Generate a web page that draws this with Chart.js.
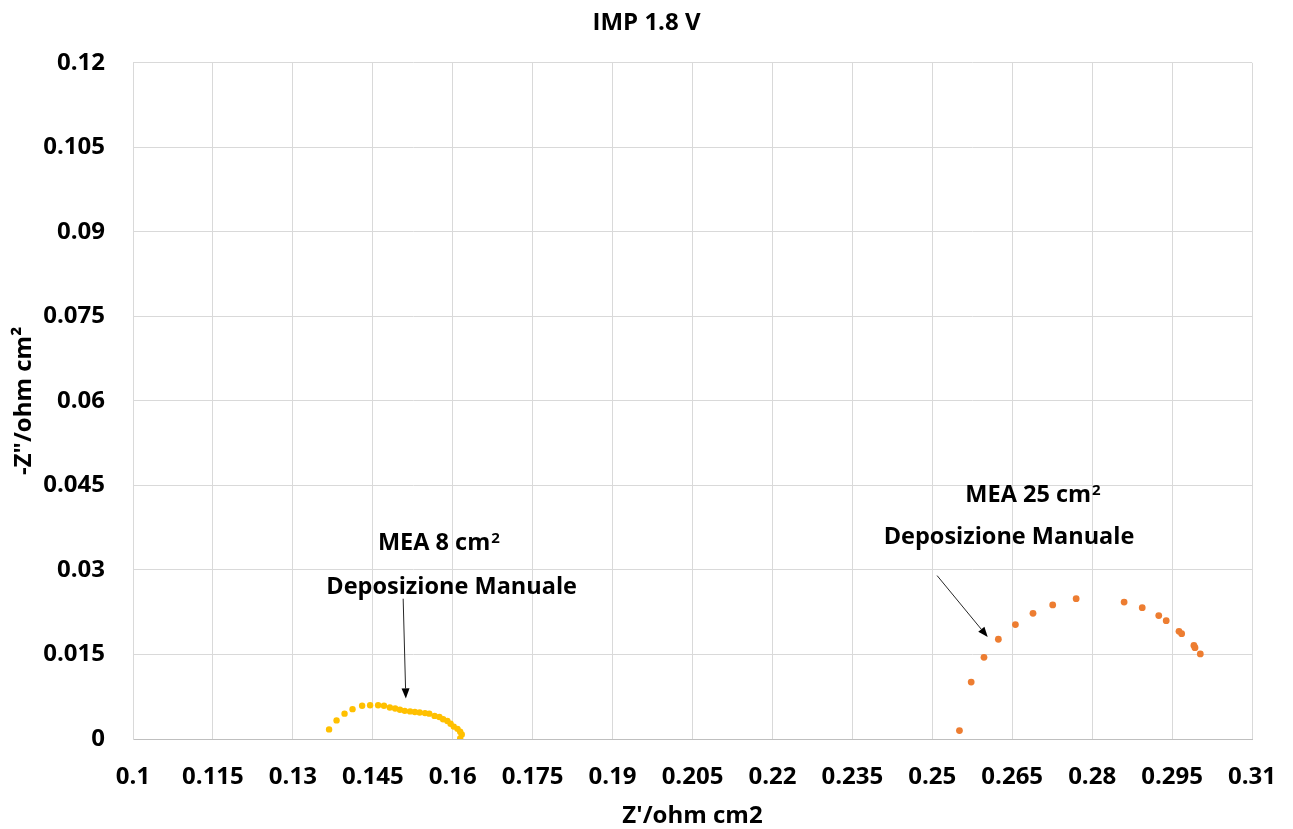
<!DOCTYPE html>
<html>
<head>
<meta charset="utf-8">
<title>IMP 1.8 V</title>
<script src="https://cdn.jsdelivr.net/npm/chart.js@4.4.1/dist/chart.umd.min.js"></script>
<style>
  html, body { margin: 0; padding: 0; background: #fff; }
  #wrap { width: 1293px; height: 829px; }
</style>
</head>
<body>
<div id="wrap"><canvas id="nyquist"></canvas></div>
<script>
// Nyquist plot at 1.8 V, two MEA sizes
const xTickValues = [0.1, 0.115, 0.13, 0.145, 0.16, 0.175, 0.19, 0.205, 0.22, 0.235, 0.25, 0.265, 0.28, 0.295, 0.31];
const yTickValues = [0, 0.015, 0.03, 0.045, 0.06, 0.075, 0.09, 0.105, 0.12];

// MEA 8 cm2: Z' and -Z''
const mea8Re = [0.1368, 0.1382, 0.1397, 0.1412, 0.1430, 0.1445, 0.1460, 0.1471, 0.1482, 0.1492,
                0.1501, 0.1510, 0.1520, 0.1529, 0.1538, 0.1548, 0.1556, 0.1566, 0.1575, 0.1582,
                0.1590, 0.1596, 0.1602, 0.1609, 0.1614, 0.1617, 0.1614];
const mea8Im = [0.0017, 0.0033, 0.0045, 0.0053, 0.0059, 0.0060, 0.0060, 0.0059, 0.0056, 0.0054,
                0.0052, 0.0050, 0.0049, 0.0048, 0.0047, 0.0046, 0.0045, 0.0041, 0.0039, 0.0035,
                0.0032, 0.0027, 0.0022, 0.0018, 0.0013, 0.0008, 0.0001];

// MEA 25 cm2: Z' and -Z''
const mea25Re = [0.2551, 0.2573, 0.2597, 0.2624, 0.2656, 0.2689, 0.2726, 0.2770, 0.2860, 0.2894,
                 0.2925, 0.2939, 0.2963, 0.2968, 0.2991, 0.2993, 0.3003];
const mea25Im = [0.0015, 0.0101, 0.0145, 0.0177, 0.0203, 0.0223, 0.0238, 0.0249, 0.0243, 0.0233,
                 0.0219, 0.0210, 0.0191, 0.0187, 0.0166, 0.0162, 0.0151];

const FONT = '"Open Sans", "DejaVu Sans", sans-serif';

function toPoints(xs, ys) {
    return xs.map((x, i) => ({ x: x, y: ys[i] }));
}

// labels and arrows placed in data units
const notes = [
    { text: 'MEA 8 cm', sup: '2', x: 0.1574, y: 0.0336 },
    { text: 'Deposizione Manuale', sup: '', x: 0.1598, y: 0.0258 },
    { text: 'MEA 25 cm', sup: '2', x: 0.2689, y: 0.0421 },
    { text: 'Deposizione Manuale', sup: '', x: 0.2644, y: 0.0346 }
];
const arrows = [
    { x1: 0.1507, y1: 0.0249, x2: 0.1512, y2: 0.0072 },
    { x1: 0.2509, y1: 0.0290, x2: 0.2604, y2: 0.0181 }
];

const annotationPlugin = {
    id: 'notes',
    afterDatasetsDraw(chart) {
        const ctx = chart.ctx;
        const xs = chart.scales.x;
        const ys = chart.scales.y;
        ctx.save();
        ctx.fillStyle = '#000';
        ctx.textBaseline = 'alphabetic';
        notes.forEach(n => {
            ctx.font = 'bold 23.5px ' + FONT;
            const w = ctx.measureText(n.text).width;
            ctx.font = 'bold 15px ' + FONT;
            const ws = n.sup ? ctx.measureText(n.sup).width + 1 : 0;
            const cx = xs.getPixelForValue(n.x);
            const by = ys.getPixelForValue(n.y);
            const left = cx - (w + ws) / 2;
            ctx.font = 'bold 23.5px ' + FONT;
            ctx.textAlign = 'left';
            ctx.fillText(n.text, left, by);
            if (n.sup) {
                ctx.font = 'bold 15px ' + FONT;
                ctx.fillText(n.sup, left + w + 1, by - 7);
            }
        });

        ctx.strokeStyle = '#262626';
        ctx.fillStyle = '#000';
        ctx.lineWidth = 1;
        arrows.forEach(a => {
            const x1 = xs.getPixelForValue(a.x1), y1 = ys.getPixelForValue(a.y1);
            const x2 = xs.getPixelForValue(a.x2), y2 = ys.getPixelForValue(a.y2);
            const ang = Math.atan2(y2 - y1, x2 - x1);
            const len = 10, half = 4;
            const bx = x2 - len * Math.cos(ang), byy = y2 - len * Math.sin(ang);
            ctx.beginPath();
            ctx.moveTo(x1, y1);
            ctx.lineTo(bx, byy);
            ctx.stroke();
            ctx.beginPath();
            ctx.moveTo(x2, y2);
            ctx.lineTo(bx + half * Math.sin(ang), byy - half * Math.cos(ang));
            ctx.lineTo(bx - half * Math.sin(ang), byy + half * Math.cos(ang));
            ctx.closePath();
            ctx.fill();
        });
        ctx.restore();
    }
};

const fmt = v => String(+Number(v).toFixed(3));

new Chart(document.getElementById('nyquist'), {
    type: 'scatter',
    data: {
        datasets: [
            {
                label: 'MEA 8 cm2',
                data: toPoints(mea8Re, mea8Im),
                backgroundColor: '#FFC000',
                borderWidth: 0,
                pointRadius: 3.2
            },
            {
                label: 'MEA 25 cm2',
                data: toPoints(mea25Re, mea25Im),
                backgroundColor: '#ED7D31',
                borderWidth: 0,
                pointRadius: 3.4
            }
        ]
    },
    options: {
        responsive: true,
        maintainAspectRatio: false,
        animation: false,
        layout: { padding: 0 },
        plugins: {
            legend: { display: false },
            tooltip: { enabled: false },
            title: {
                display: true,
                text: 'IMP 1.8 V',
                color: '#000',
                font: { family: FONT, size: 24, weight: 'bold' },
                padding: { top: 9, bottom: 25 }
            }
        },
        scales: {
            x: {
                type: 'linear',
                min: 0.1,
                max: 0.31,
                afterBuildTicks(scale) {
                    scale.ticks = xTickValues.map(v => ({ value: v }));
                },
                afterFit(scale) {
                    scale.height = 90;
                    scale.paddingRight = 41;
                },
                grid: { color: '#d9d9d9', drawTicks: false },
                border: { color: '#bfbfbf' },
                ticks: {
                    color: '#000',
                    padding: 24,
                    maxRotation: 0,
                    autoSkip: false,
                    font: { family: FONT, size: 24, weight: 'bold' },
                    callback: v => fmt(v)
                },
                title: {
                    display: true,
                    text: "Z'/ohm cm2",
                    color: '#000',
                    font: { family: FONT, size: 24, weight: 'bold', lineHeight: 1.05 },
                    padding: { top: 0, bottom: 0 }
                }
            },
            y: {
                type: 'linear',
                min: 0,
                max: 0.12,
                afterBuildTicks(scale) {
                    scale.ticks = yTickValues.map(v => ({ value: v }));
                },
                afterFit(scale) {
                    scale.width = 133;
                },
                grid: { color: '#d9d9d9', drawTicks: false },
                border: { color: '#d9d9d9' },
                ticks: {
                    color: '#000',
                    padding: 28,
                    autoSkip: false,
                    font: { family: FONT, size: 24, weight: 'bold' },
                    callback: v => fmt(v)
                },
                title: {
                    display: true,
                    text: '-Z"/ohm cm²',
                    color: '#000',
                    font: { family: FONT, size: 24, weight: 'bold' },
                    padding: { top: 10, bottom: 0 }
                }
            }
        }
    },
    plugins: [annotationPlugin]
});
</script>
</body>
</html>
